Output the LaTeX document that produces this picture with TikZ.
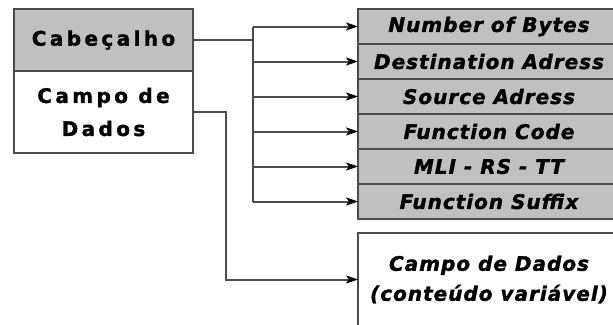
\documentclass[tikz,border=0pt]{standalone}
\usepackage{fontspec}
\usepackage{xcolor}
\usetikzlibrary{arrows.meta, positioning}
\newfontfamily\headfont[LetterSpace=17, BoldFeatures={FakeBold=1.5}]{DejaVu Sans}
\newfontfamily\rowfont[LetterSpace=5, BoldItalicFeatures={FakeBold=1.5}]{DejaVu Sans}
\definecolor{framegray}{HTML}{C0C0C0}

\begin{document}
\begin{tikzpicture}[
  x=1pt, y=-1pt,
  field/.style={rectangle, draw=black!70, line width=1.6pt, outer sep=0pt,
                inner sep=0pt, align=center},
  headbox/.style={field, fill=framegray, minimum width=179pt, minimum height=62pt,
                  font=\headfont\bfseries\fontsize{20}{33}\selectfont},
  databox/.style={headbox, fill=white, minimum height=82pt},
  rowbox/.style={field, fill=framegray, minimum width=262pt, minimum height=35pt,
                 font=\rowfont\bfseries\itshape\fontsize{20}{24}\selectfont},
  bodybox/.style={rowbox, fill=white, minimum height=93pt,
                  font=\rowfont\bfseries\itshape\fontsize{20}{30}\selectfont},
  link/.style={line width=2pt, color=black!70},
  arrow/.style={link, -{Stealth[length=12pt,width=8pt,inset=3pt,color=black]}}
]
\useasboundingbox (0,0) rectangle (613,324);
\clip (0,0) rectangle (613,324);

% frame on the left
\node[headbox, anchor=north west] (head) at (14,9) {Cabeçalho};
\node[databox, below=0pt of head] (dados) {Campo de\\Dados};

% header fields
\node[rowbox, anchor=north west] (bytes) at (358,9) {Number of Bytes};
\node[rowbox, below=0pt of bytes] (dest) {Destination Adress};
\node[rowbox, below=0pt of dest] (source) {Source Adress};
\node[rowbox, below=0pt of source] (code) {Function Code};
\node[rowbox, below=0pt of code] (mli) {MLI - RS - TT};
\node[rowbox, below=0pt of mli] (suffix) {Function Suffix};

% data field
\node[bodybox, anchor=north west] (campo) at (358,233) {Campo de Dados\\(conteúdo variável)};

\coordinate (bus) at (253,0);
\coordinate (drop) at (226,0);

\draw[link] (head.east) -- (head.east -| bus);
\draw[link] (bus |- bytes.west) -- (bus |- suffix.west);
\draw[arrow] (bus |- bytes.west) -- (bytes.west);
\draw[arrow] (bus |- dest.west) -- (dest.west);
\draw[arrow] (bus |- source.west) -- (source.west);
\draw[arrow] (bus |- code.west) -- (code.west);
\draw[arrow] (bus |- mli.west) -- (mli.west);
\draw[arrow] (bus |- suffix.west) -- (suffix.west);
\draw[arrow] (dados.east) -- (dados.east -| drop) |- (campo.west);
\end{tikzpicture}
\end{document}
